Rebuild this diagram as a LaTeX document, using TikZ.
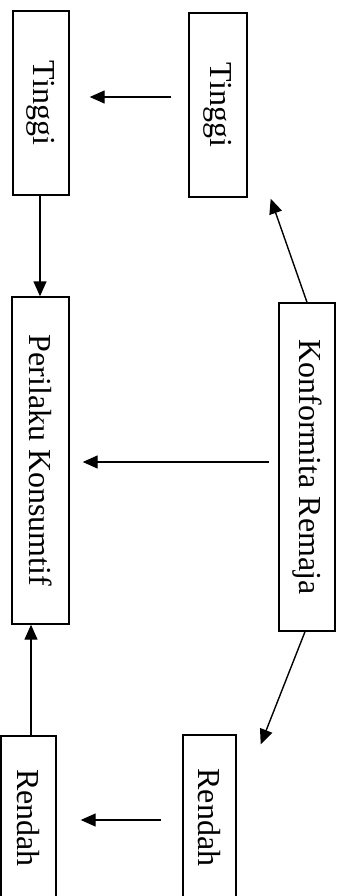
\documentclass[tikz,border=0pt]{standalone}
\usepackage{fontspec}
\setmainfont{Liberation Serif}
\usepackage{graphicx}
\usetikzlibrary{arrows.meta,calc}
\begin{document}
\begin{tikzpicture}[x=1pt,y=-1pt,
  box/.style={draw,line width=1.4pt,inner sep=0pt,font=\fontsize{32}{38}\selectfont},
  arr/.style={line width=1.4pt,-{Triangle[length=15pt,width=13pt]}}]
\useasboundingbox (0,0) rectangle (348,896);
\node[box,minimum width=56pt,minimum height=184pt] (T1) at (41,103) {\rotatebox{-90}{Tinggi}};
\node[box,minimum width=58pt,minimum height=184pt] (T2) at (218,105) {\rotatebox{-90}{Tinggi}};
\node[box,minimum width=57pt,minimum height=327pt] (P) at (40.5,460.5) {\rotatebox{-90}{Perilaku Konsumtif}};
\node[box,minimum width=56pt,minimum height=328pt] (K) at (307,467) {\rotatebox{-90}{Konformita Remaja}};
\node[box,minimum width=55pt,minimum height=164pt] (R1) at (28.5,818) {\rotatebox{-90}{Rendah}};
\node[box,minimum width=53pt,minimum height=165pt] (R2) at (209.5,817.5) {\rotatebox{-90}{Rendah}};
\coordinate (th) at ($(T2.south east)+(23,1)$);
\coordinate (rh) at ($(R2.north east)+(24,10)$);
\draw[arr] ($(T2.west)+(-17,-8)$) -- ($(T1.east)+(20,-6)$);
\draw[arr] ($(T1.south)+(-1,0)$) -- ($(P.north)+(-0.5,0)$);
\draw[arr] ($(K.west)+(-9,-5)$) -- ($(P.east)+(13,1.5)$);
\draw[arr] (K.north) -- (th);
\draw[arr] ($(K.south)+(-2,0)$) -- (rh);
\draw[arr] ($(R2.west)+(-21,2.5)$) -- ($(R1.east)+(24,2)$);
\draw[arr] ($(R1.north)+(2.5,0)$) -- ($(P.south)+(-9.5,0)$);
\end{tikzpicture}
\end{document}
